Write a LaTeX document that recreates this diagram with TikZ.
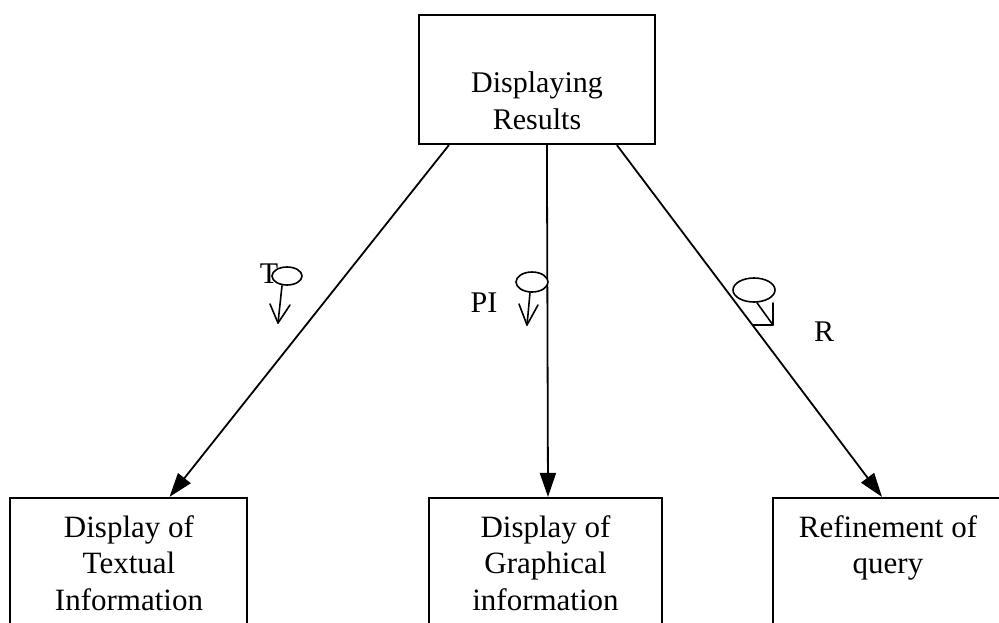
\documentclass[tikz,border=0pt]{standalone}
\usepackage{fontspec}
\setmainfont{Liberation Serif}
\usetikzlibrary{arrows.meta,shapes.geometric,calc}

\tikzset{
  box/.style={draw, line width=2.2pt, rectangle, inner sep=0pt},
  % anchor=base of a multi-line node sits on its last line
  boxtext/.style={align=center, inner sep=0pt, anchor=base,
    font=\fontsize{31}{36.5}\selectfont},
  flow/.style={line width=1.8pt, -{Triangle[length=24pt,width=16pt]}},
  ovalmark/.style={draw, ellipse, line width=1.6pt, fill=white, inner sep=0pt},
  tick/.style={line width=1.6pt, line cap=round, line join=round},
  lbl/.style={inner sep=0pt, anchor=base, font=\fontsize{30}{36}\selectfont},
}

\begin{document}
\begin{tikzpicture}[x=1pt, y=-1pt]
  \clip (0,0) rectangle (999,622);
  \fill[white] (0,0) rectangle (999,622);

  % top box
  \node[box, minimum width=236pt, minimum height=129pt] (res) at (537,79.5) {};
  \node[boxtext, font=\fontsize{30}{37}\selectfont] (restext) at (537,129) {Displaying\\Results};

  % bottom boxes (running past the lower edge)
  \node[box, minimum width=237pt, minimum height=200pt] (txt) at (128.5,598) {};
  \node[boxtext] (txttext) at (129,610) {Display of\\Textual\\Information};

  \node[box, minimum width=233pt, minimum height=200pt] (gra) at (545.5,598) {};
  \node[boxtext] (gratext) at (545.5,610) {Display of\\Graphical\\information};

  \node[box, minimum width=230pt, minimum height=200pt] (ref) at (888,598) {};
  \node[boxtext] (reftext) at (888,573.5) {Refinement of\\query};

  % connectors
  \draw[flow] ($(res.south west)+(31,0)$) -- ($(txt.north)+(41,0)$);
  \draw[flow] ($(res.south west)+(129,0)$) -- ($(gra.north)+(2.5,0)$);
  \draw[flow] ($(res.south west)+(199,0)$) -- ($(ref.north)+(-6,0)$);

  % marker T
  \node[lbl] (tl) at (269,283) {T};
  \node[ovalmark, minimum width=30pt, minimum height=18pt] (tm) at (287,276) {};
  \coordinate (ttip) at (278,323);
  \draw[tick] ($(tm.south)+(-5,0)$) -- (ttip);
  \draw[tick] (270,304) -- (ttip) -- (290,305);

  % marker PI
  \node[lbl] (pl) at (484,312) {PI};
  \node[ovalmark, minimum width=32pt, minimum height=20pt] (pm) at (532,282) {};
  \coordinate (ptip) at (527,325);
  \draw[tick] ($(pm.south)+(-2,0)$) -- (ptip);
  \draw[tick] (519,304) -- (ptip) -- (538,305);

  % marker R
  \node[lbl] (rl) at (824,341) {R};
  \node[ovalmark, minimum width=42pt, minimum height=24pt] (rm) at (754,290) {};
  \coordinate (rtip) at (773,325);
  \draw[tick] ($(rm.south)+(3,0)$) -- (rtip);
  \draw[tick] (773,303) -- (rtip) -- (753,325);
\end{tikzpicture}
\end{document}
